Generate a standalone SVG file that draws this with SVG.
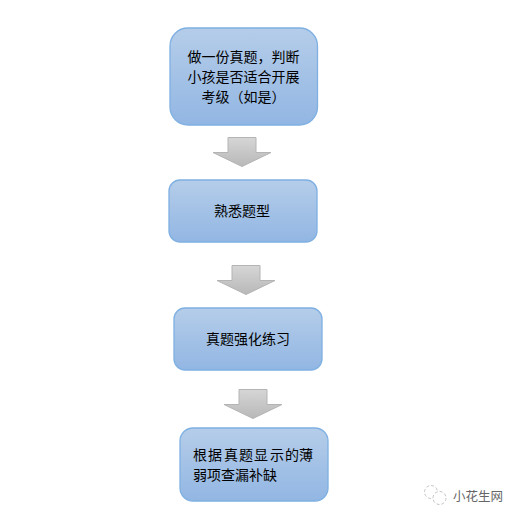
<svg xmlns="http://www.w3.org/2000/svg" width="521" height="519" viewBox="0 0 521 519">
<style>
.box{fill:url(#bg);stroke:#7fb0e2;stroke-width:1.3}
.arr{fill:url(#ag);stroke:#b4b4b4;stroke-width:1}
.t{font-family:"Noto Sans CJK SC","Liberation Sans",sans-serif;font-size:14px;fill:#000}
.wm{font-family:"Noto Sans CJK SC","Liberation Sans",sans-serif;font-size:12.5px;fill:#666}
.ic{stroke:#c4c4c4;stroke-width:1;stroke-dasharray:3 2}
</style>
<defs>
<linearGradient id="bg" x1="0" y1="0" x2="0" y2="1"><stop offset="0" stop-color="#b5cde9"/><stop offset="1" stop-color="#92b6e3"/></linearGradient>
<linearGradient id="ag" x1="0" y1="0" x2="0" y2="1"><stop offset="0" stop-color="#d6d6d6"/><stop offset="1" stop-color="#b8b8b8"/></linearGradient>
</defs>
<rect width="521" height="519" fill="#fff"/>
<g id="connectors">
<path class="arr" d="M228 137.500H256V152.500H271L242 166.500L213 152.500H228Z"/>
<path class="arr" d="M232 265.500H260V280.500H275L246 294.500L217 280.500H232Z"/>
<path class="arr" d="M239 389.500H267V404.500H282L253 418.500L224 404.500H239Z"/>
</g>
<g id="node1">
<rect class="box" x="170" y="28" width="147.500" height="97" rx="18"/>
<text class="t" x="187.500" y="62">做一份真题，判断</text>
<text class="t" x="187.500" y="82">小孩是否适合开展</text>
<text class="t" x="201.500" y="102">考级（如是）</text>
</g>
<g id="node2">
<rect class="box" x="169" y="180" width="148" height="62" rx="11"/>
<text class="t" x="214" y="216">熟悉题型</text>
</g>
<g id="node3">
<rect class="box" x="174" y="308" width="148" height="62" rx="11"/>
<text class="t" x="206" y="344">真题强化练习</text>
</g>
<g id="node4">
<rect class="box" x="180" y="428" width="148" height="73" rx="13"/>
<text class="t" x="193 208 224 239 254 270 285 299" y="460">根据真题显示的薄</text>
<text class="t" x="193" y="480">弱项查漏补缺</text>
</g>
<g id="watermark">
<circle class="ic" cx="431" cy="492" r="6.500" fill="none"/>
<circle class="ic" cx="439.500" cy="498" r="6.500" fill="#fff"/>
<text class="wm" x="453" y="500.500">小花生网</text>
</g>
</svg>
